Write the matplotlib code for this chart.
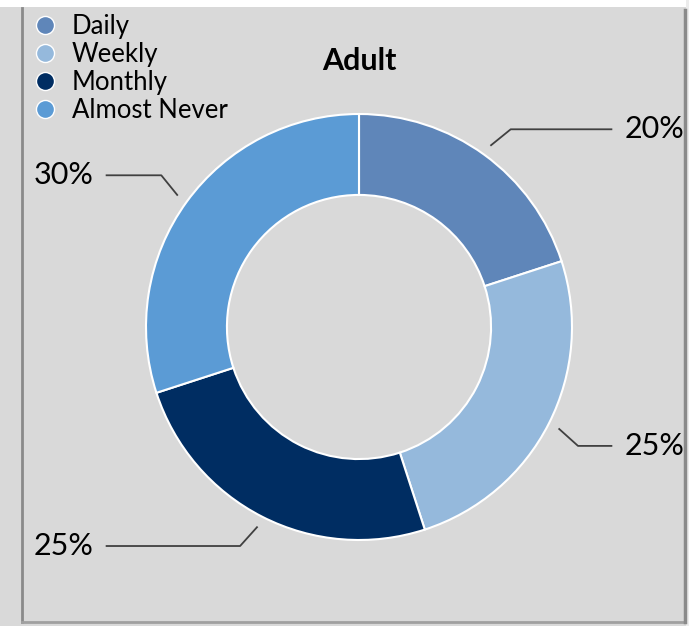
import matplotlib.pyplot as plt
import numpy as np
from matplotlib.lines import Line2D
from matplotlib.patches import Rectangle

categories = ['Daily', 'Weekly', 'Monthly', 'Almost Never']
shares = [20, 25, 25, 30]
colors = ['#5f86b9', '#95b9dc', '#002d62', '#5b9bd5']
title = 'Adult'

plt.rcParams['font.family'] = ['Lato', 'DejaVu Sans']

W, H = 689, 626
cx, cy, R = 359, 327, 213  # centre and radius in pixels
fig = plt.figure(figsize=(W / 100, H / 100), dpi=100, facecolor='#d9d9d9')
ax = fig.add_axes([0, 0, 1, 1])

wedges, _ = ax.pie(shares, colors=colors, startangle=90, counterclock=False,
                   radius=1, wedgeprops=dict(width=0.38, edgecolor='white', linewidth=1.5))
ax.set_aspect('auto')
ax.set_xlim(-cx / R, (W - cx) / R)
ax.set_ylim(-(H - cy) / R, cy / R)
ax.axis('off')

# frame of the chart area
fig.patches.append(Rectangle((0, 1 - 7 / H), 1, 7 / H, transform=fig.transFigure,
                             facecolor='white', edgecolor='none', zorder=0))
fig.patches.append(Rectangle((686 / W, 0), 1, 1, transform=fig.transFigure,
                             facecolor='#ececec', edgecolor='none', zorder=0))
fig.add_artist(Line2D([22 / W, 22 / W], [1 - 622 / H, 1 - 8 / H], color='#8a8a8a', lw=2))
fig.add_artist(Line2D([22 / W, 685 / W], [1 - 622 / H, 1 - 622 / H], color='#a0a0a0', lw=2))
fig.add_artist(Line2D([685 / W, 685 / W], [1 - 622 / H, 1 - 10 / H], color='#8a8a8a', lw=2.5))

for w, s in zip(wedges, shares):
    mid = (w.theta1 + w.theta2) / 2
    a0, a1 = np.deg2rad(mid), np.deg2rad(mid - 1.5)
    x0, y0 = 1.055 * np.cos(a0), 1.055 * np.sin(a0)
    x1, y1 = 1.17 * np.cos(a1), 1.17 * np.sin(a1)
    side = 1 if x0 > 0 else -1
    x2 = side * 1.185
    ax.plot([x0, x1, x2], [y0, y1, y1], color='#404040', lw=1.3)
    ax.text(x2 + side * 0.06, y1, f'{s}%', fontsize=22, ha='left' if side > 0 else 'right',
            va='center', color='black')

ax.text(0, (cy - 61) / R, title, fontsize=22, fontweight='bold', ha='center', va='center')

handles = [Line2D([], [], marker='o', ls='none', markersize=13, markerfacecolor=c,
                  markeredgecolor='white', markeredgewidth=1) for c in colors]
fig.legend(handles, categories, loc='upper left', bbox_to_anchor=(14 / W, 1 + 4 / H),
           frameon=False, fontsize=18.5, labelspacing=0.12, handletextpad=0.55,
           handlelength=1.0, borderpad=0.2)

fig.savefig('out.png', dpi=100, facecolor=fig.get_facecolor())
